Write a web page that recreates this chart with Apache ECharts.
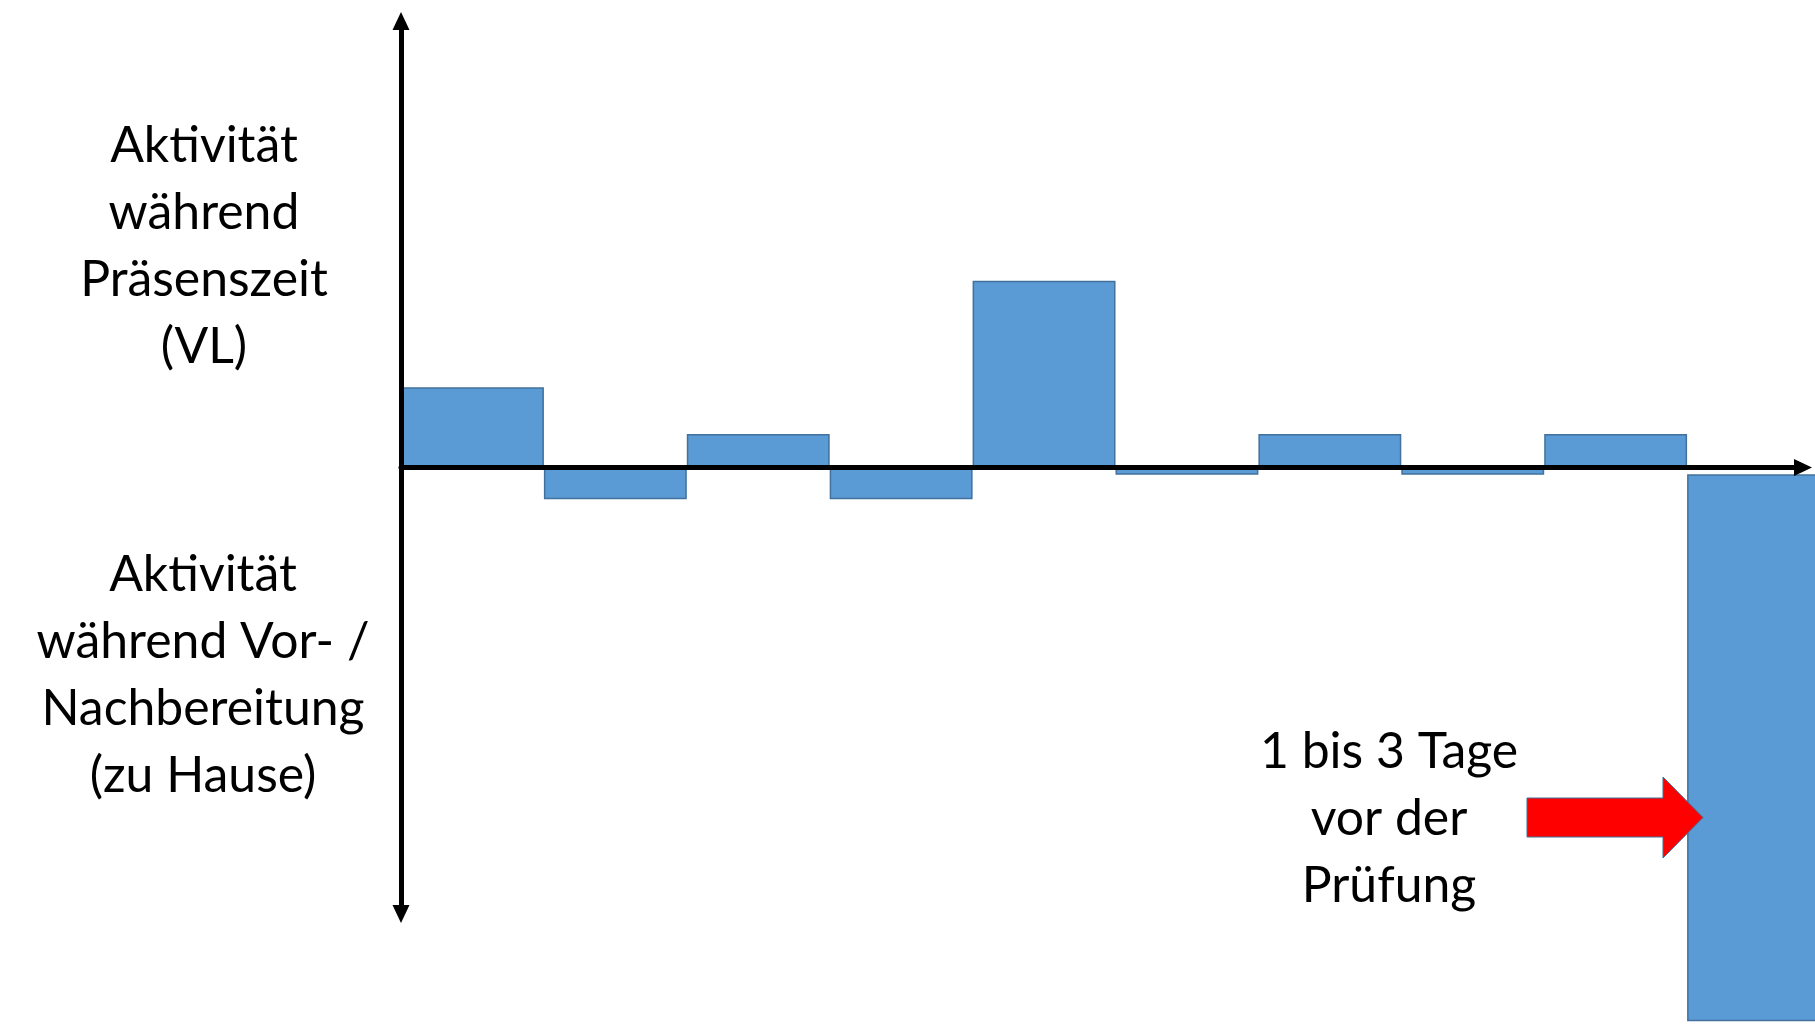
<!DOCTYPE html>
<html><head><meta charset="utf-8">
<script src="https://cdn.jsdelivr.net/npm/echarts@6/dist/echarts.min.js"></script>
<style>html,body{margin:0;padding:0;background:#fff;overflow:hidden;width:1815px;height:1027px}#c{width:1830px;height:1027px}</style>
</head><body><div id="c"></div>
<script>
// ---- data ----
const categories = ['1','2','3','4','5','6','7','8','9','10'];
const activity   = [1.8, -0.71, 0.75, -0.71, 4.18, -0.16, 0.75, -0.16, 0.75, -12.25];
const baseOffset = [0, 0, 0, 0, 0, 0, 0, 0, 0, -0.15];
const axisMin = -10, axisMax = 10;
const upperLabel = ['Aktivität', 'während', 'Präsenszeit', '(VL)'];
const lowerLabel = ['Aktivität', 'während Vor- /', 'Nachbereitung', '(zu Hause)'];
const noteLabel  = ['1 bis 3 Tage', 'vor der', 'Prüfung'];

// ---- font fit ----
const FONT = 'Lato';
const cv = document.createElement('canvas').getContext('2d');
cv.font = '44px ' + FONT;
const fs = Math.round(44 * 323 / cv.measureText('Nachbereitung').width * 10) / 10;

const chart = echarts.init(document.getElementById('c'), null, {renderer: 'canvas'});
const txt = (lines, x, y) => ({
  type: 'text', x: x, y: y, silent: true,
  style: {text: lines.join('\n'), fill: '#000', font: fs + 'px ' + FONT,
          textAlign: 'center', textVerticalAlign: 'middle', lineHeight: 67}
});

chart.setOption({
  backgroundColor: '#ffffff',
  animation: false,
  grid: [
    {left: 401, right: 0, top: 21, bottom: 113},
    {left: 401, right: 27, top: 21, bottom: 113}
  ],
  xAxis: [
    {type: 'category', data: categories, gridIndex: 0, show: false},
    {type: 'value', min: 0, max: 1, gridIndex: 1, z: 10,
     axisLine: {show: true, onZero: true, symbol: ['none', 'triangle'], symbolSize: [17, 18],
                lineStyle: {color: '#000', width: 5}},
     axisTick: {show: false}, axisLabel: {show: false}, splitLine: {show: false}}
  ],
  yAxis: [
    {type: 'value', min: axisMin, max: axisMax, gridIndex: 0, show: false},
    {type: 'value', min: axisMin, max: axisMax, gridIndex: 1, z: 10,
     axisLine: {show: true, onZero: true, symbol: ['triangle', 'triangle'], symbolSize: [17, 18],
                lineStyle: {color: '#000', width: 5}},
     axisTick: {show: false}, axisLabel: {show: false}, splitLine: {show: false}}
  ],
  series: [
    {type: 'bar', name: 'base', stack: 's', data: baseOffset, xAxisIndex: 0, yAxisIndex: 0,
     barCategoryGap: '0%', clip: false, silent: true,
     itemStyle: {color: 'rgba(0,0,0,0)', borderWidth: 0}, z: 1},
    {type: 'bar', name: 'Aktivität', stack: 's', data: activity, xAxisIndex: 0, yAxisIndex: 0,
     barCategoryGap: '0%', clip: false,
     itemStyle: {color: '#5B9BD5', borderColor: '#41719C', borderWidth: 1.5}, z: 1}
  ],
  graphic: [
    txt(upperLabel, 204, 246),
    txt(lowerLabel, 203, 675),
    txt(noteLabel, 1389, 819),
    {type: 'polygon', silent: true, z: 100,
     shape: {points: [[1527, 798], [1663, 798], [1663, 777], [1703, 817.5], [1663, 858], [1663, 837], [1527, 837]]},
     style: {fill: '#FF0000', stroke: '#41719C', lineWidth: 1}}
  ]
});
</script></body></html>
